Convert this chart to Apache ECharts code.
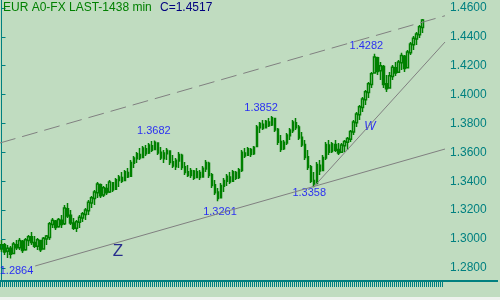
<!DOCTYPE html>
<html><head><meta charset="utf-8">
<script src="https://cdn.jsdelivr.net/npm/echarts@6/dist/echarts.min.js"></script>
<style>html,body{margin:0;padding:0;background:#c0dcc0}#c{width:500px;height:300px}</style>
</head><body><div id="c"></div>
<script>
const openP = [
1.2930,1.2960,1.2915,1.2935,1.2900,1.2960,1.2940,1.2985,1.2925,1.2990,
1.3015,1.2975,1.2950,1.2990,1.2930,1.3000,1.3010,1.3100,1.3125,1.3085,
1.3130,1.3105,1.3210,1.3165,1.3110,1.3075,1.3115,1.3145,1.3170,1.3195,
1.3250,1.3280,1.3320,1.3375,1.3305,1.3350,1.3325,1.3390,1.3345,1.3405,
1.3425,1.3405,1.3460,1.3435,1.3525,1.3555,1.3585,1.3565,1.3625,1.3595,
1.3645,1.3620,1.3665,1.3600,1.3555,1.3590,1.3610,1.3535,1.3500,1.3540,
1.3580,1.3500,1.3465,1.3440,1.3470,1.3425,1.3460,1.3430,1.3485,1.3525,
1.3445,1.3375,1.3325,1.3285,1.3365,1.3400,1.3430,1.3400,1.3460,1.3425,
1.3475,1.3595,1.3580,1.3620,1.3590,1.3640,1.3770,1.3795,1.3770,1.3810,
1.3790,1.3835,1.3760,1.3675,1.3625,1.3665,1.3715,1.3750,1.3805,1.3775,
1.3705,1.3655,1.3570,1.3500,1.3405,1.3385,1.3510,1.3475,1.3560,1.3650,
1.3605,1.3655,1.3620,1.3600,1.3645,1.3670,1.3690,1.3740,1.3805,1.3860,
1.3910,1.3965,1.4015,1.4070,1.4150,1.4255,1.4165,1.4195,1.4075,1.4045,
1.4125,1.4185,1.4155,1.4220,1.4265,1.4185,1.4290,1.4345,1.4385,1.4415,
1.4465];
const closeP = [
1.2960,1.2910,1.2935,1.2895,1.2965,1.2940,1.2990,1.2920,1.2995,1.3015,
1.2975,1.2950,1.2995,1.2925,1.3005,1.3020,1.3105,1.3130,1.3080,1.3135,
1.3100,1.3215,1.3160,1.3110,1.3075,1.3120,1.3150,1.3175,1.3200,1.3255,
1.3285,1.3325,1.3380,1.3300,1.3355,1.3320,1.3395,1.3340,1.3410,1.3430,
1.3400,1.3465,1.3430,1.3530,1.3560,1.3590,1.3560,1.3630,1.3590,1.3650,
1.3615,1.3670,1.3595,1.3560,1.3595,1.3615,1.3530,1.3505,1.3545,1.3585,
1.3495,1.3460,1.3440,1.3475,1.3420,1.3465,1.3425,1.3490,1.3530,1.3440,
1.3370,1.3320,1.3280,1.3370,1.3405,1.3435,1.3395,1.3465,1.3420,1.3480,
1.3600,1.3575,1.3625,1.3585,1.3635,1.3775,1.3800,1.3765,1.3815,1.3785,
1.3840,1.3755,1.3670,1.3620,1.3670,1.3720,1.3755,1.3810,1.3770,1.3700,
1.3650,1.3565,1.3495,1.3400,1.3380,1.3515,1.3470,1.3565,1.3655,1.3600,
1.3660,1.3615,1.3595,1.3650,1.3675,1.3695,1.3745,1.3810,1.3865,1.3915,
1.3970,1.4020,1.4075,1.4145,1.4260,1.4160,1.4200,1.4070,1.4040,1.4130,
1.4190,1.4150,1.4225,1.4270,1.4180,1.4295,1.4350,1.4390,1.4420,1.4470,
1.4517];
const lowP = [
1.2910,1.2889,1.2868,1.2864,1.2895,1.2924,1.2924,1.2903,1.2918,1.2951,
1.2958,1.2938,1.2924,1.2910,1.2925,1.2958,1.2993,1.3076,1.3062,1.3078,
1.3076,1.3097,1.3146,1.3097,1.3062,1.3048,1.3076,1.3118,1.3132,1.3166,
1.3215,1.3235,1.3284,1.3284,1.3291,1.3305,1.3319,1.3326,1.3339,1.3360,
1.3388,1.3400,1.3422,1.3430,1.3492,1.3526,1.3547,1.3560,1.3575,1.3589,
1.3602,1.3616,1.3582,1.3547,1.3526,1.3547,1.3512,1.3492,1.3478,1.3492,
1.3478,1.3443,1.3429,1.3422,1.3409,1.3422,1.3409,1.3425,1.3464,1.3422,
1.3353,1.3305,1.3261,1.3280,1.3326,1.3367,1.3381,1.3395,1.3409,1.3416,
1.3464,1.3561,1.3575,1.3568,1.3582,1.3640,1.3734,1.3755,1.3765,1.3776,
1.3782,1.3741,1.3651,1.3602,1.3616,1.3651,1.3686,1.3734,1.3755,1.3686,
1.3637,1.3547,1.3478,1.3388,1.3358,1.3380,1.3443,1.3470,1.3547,1.3582,
1.3595,1.3602,1.3582,1.3595,1.3602,1.3616,1.3672,1.3720,1.3776,1.3824,
1.3879,1.3928,1.3976,1.4046,1.4145,1.4136,1.4101,1.4046,1.4018,1.4040,
1.4101,1.4129,1.4150,1.4170,1.4156,1.4180,1.4274,1.4309,1.4343,1.4392,
1.4427];
const highP = [
1.2993,1.2972,1.2958,1.2951,1.2979,1.2993,1.3007,1.2993,1.3007,1.3028,
1.3048,1.3021,1.3007,1.2993,1.3014,1.3028,1.3118,1.3146,1.3132,1.3146,
1.3166,1.3235,1.3249,1.3201,1.3146,1.3132,1.3166,1.3187,1.3215,1.3270,
1.3298,1.3339,1.3395,1.3385,1.3367,1.3381,1.3409,1.3395,1.3423,1.3443,
1.3464,1.3478,1.3492,1.3547,1.3575,1.3602,1.3630,1.3644,1.3651,1.3665,
1.3679,1.3682,1.3665,1.3637,1.3616,1.3630,1.3612,1.3582,1.3561,1.3602,
1.3590,1.3533,1.3512,1.3492,1.3478,1.3492,1.3478,1.3506,1.3547,1.3535,
1.3457,1.3409,1.3353,1.3388,1.3423,1.3450,1.3464,1.3478,1.3471,1.3492,
1.3616,1.3630,1.3637,1.3630,1.3644,1.3790,1.3810,1.3824,1.3824,1.3838,
1.3852,1.3838,1.3769,1.3720,1.3686,1.3734,1.3769,1.3824,1.3838,1.3790,
1.3741,1.3686,1.3616,1.3512,1.3464,1.3533,1.3547,1.3582,1.3672,1.3686,
1.3672,1.3686,1.3665,1.3665,1.3686,1.3706,1.3755,1.3824,1.3879,1.3928,
1.3983,1.4032,1.4087,1.4156,1.4282,1.4262,1.4226,1.4205,1.4136,1.4156,
1.4205,1.4226,1.4240,1.4290,1.4274,1.4309,1.4364,1.4406,1.4433,1.4482,
1.4524];
const slotCount = 148;            // bar slots on the time axis (incl. empty right margin)
const timeTickCount = 221;        // dense time-axis ticks
const yTicks = [1.28,1.30,1.32,1.34,1.36,1.38,1.40,1.42,1.44,1.46];
const yMin = 1.2709, yMax = 1.4655;
const xMin = -0.5, xMax = 147.5;
const trendUpper = [[-0.5, 1.3665], [147.5, 1.4546]];
const trendLower = [[11.2, 1.2813], [147.5, 1.3623]];
const trendW = [[104, 1.3365], [147.5, 1.4364]];
const pivotIndex = [3, 51, 72, 90, 104, 124];
const pivotKind = ['low','high','low','high','low','high'];
const pivotOffset = [[6,12],[-1,-9.6],[2,10.6],[-11,-8],[-5,5.7],[-8,-8]];
const waveText = ['Z','W'];
const waveX = [38.7, 122.5];
const waveY = [1.2917, 1.3776];
const titleText = 'EUR A0-FX LAST-1438 min';

const FONT = '"Liberation Sans", Arial, sans-serif';
const cats = Array.from({length: slotCount}, (_, i) => String(i));
const tickCats = Array.from({length: timeTickCount}, (_, i) => String(i));
const ohlc = openP.map((o, i) => [o, closeP[i], lowP[i], highP[i]]);
const pivots = pivotIndex.map((idx, k) => {
  const v = pivotKind[k] === 'low' ? lowP[idx] : highP[idx];
  return {value: [idx, v], label: {offset: pivotOffset[k]}};
});

const chart = echarts.init(document.getElementById('c'), null, {renderer: 'canvas'});
chart.setOption({
  animation: false,
  backgroundColor: '#c0dcc0',
  title: [
    {text: titleText, left: 3, top: 2, padding: 0,
     textStyle: {color: '#008000', fontSize: 12, fontWeight: 'normal', fontFamily: FONT}},
    {text: 'C=' + closeP[closeP.length - 1].toFixed(4), left: 160, top: 2, padding: 0,
     textStyle: {color: '#000080', fontSize: 12, fontWeight: 'normal', fontFamily: FONT}}
  ],
  grid: [
    {left: 0, top: 0, width: 445, height: 281, outerBoundsMode: 'none', containLabel: false},
    {left: 0, top: 0, width: 442, height: 281, outerBoundsMode: 'none', containLabel: false}
  ],
  xAxis: [
    {type: 'category', gridIndex: 0, data: cats, position: 'bottom', boundaryGap: true,
     axisLine: {show: true, onZero: false, lineStyle: {color: '#008080', width: 2}},
     axisTick: {show: false}, axisLabel: {show: false}, splitLine: {show: false}},
    {type: 'value', gridIndex: 0, min: xMin, max: xMax, position: 'bottom', show: false},
    {type: 'category', gridIndex: 1, data: tickCats, position: 'bottom', boundaryGap: true,
     axisLine: {show: false, onZero: false},
     axisTick: {show: true, interval: 0, length: 6, lineStyle: {color: '#008080', width: 1}},
     axisLabel: {show: false}, splitLine: {show: false}}
  ],
  yAxis: [{
    type: 'value', gridIndex: 0, position: 'right', min: yMin, max: yMax, scale: true,
    axisLine: {show: true, lineStyle: {color: '#008080', width: 1}},
    axisTick: {show: true, customValues: yTicks, length: 4, lineStyle: {color: '#008080'}},
    axisLabel: {show: true, customValues: yTicks, formatter: v => v.toFixed(4),
      color: '#008080', fontSize: 12, fontFamily: FONT, margin: 5},
    splitLine: {show: false}
  }, {
    type: 'value', gridIndex: 1, show: false, min: yMin, max: yMax
  }],
  graphic: [
    {type: 'line', shape: {x1: 445, y1: 281, x2: 498, y2: 281}, style: {stroke: '#008080', lineWidth: 2}},
    {type: 'rect', shape: {x: 0, y: 297, width: 500, height: 3}, style: {fill: '#eef2ee'}}
  ],
  series: [
    {type: 'line', xAxisIndex: 1, yAxisIndex: 0, data: trendUpper, symbol: 'none', silent: true,
     lineStyle: {color: '#808080', width: 1, type: [16, 7]}},
    {type: 'line', xAxisIndex: 1, yAxisIndex: 0, data: trendLower, symbol: 'none', silent: true,
     lineStyle: {color: '#808080', width: 1}},
    {type: 'line', xAxisIndex: 1, yAxisIndex: 0, data: trendW, symbol: 'none', silent: true,
     lineStyle: {color: '#808080', width: 1}},
    {type: 'candlestick', xAxisIndex: 0, yAxisIndex: 0, data: ohlc, barWidth: 2,
     itemStyle: {color: 'rgba(0,0,0,0)', color0: '#008000', borderColor: '#008000', borderColor0: '#008000', borderWidth: 1.5}},
    {type: 'scatter', xAxisIndex: 0, yAxisIndex: 0, data: pivots, symbolSize: 1, itemStyle: {color: 'rgba(0,0,0,0)'},
     label: {show: true, position: 'inside', formatter: p => p.value[1].toFixed(4),
       color: '#0000ff', fontSize: 11, fontFamily: FONT, align: 'center', verticalAlign: 'middle'}},
    {type: 'scatter', xAxisIndex: 1, yAxisIndex: 0, symbolSize: 1, itemStyle: {color: 'rgba(0,0,0,0)'},
     data: waveText.map((t, k) => ({value: [waveX[k], waveY[k]], name: t,
       label: k === 0 ? {color: '#000080', fontSize: 17} : {color: '#0000ff', fontSize: 12, fontStyle: 'italic'}})),
     label: {show: true, position: 'inside', formatter: p => p.name, fontFamily: FONT,
       align: 'center', verticalAlign: 'middle'}}
  ]
});
</script></body></html>
